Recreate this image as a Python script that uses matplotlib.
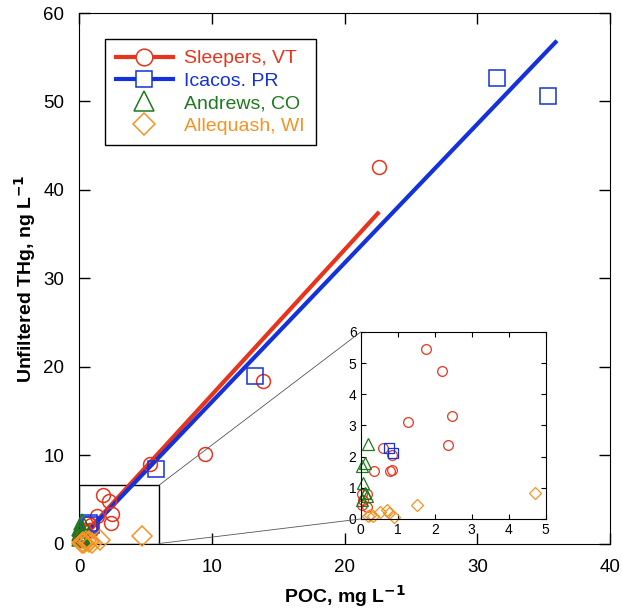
import numpy as np
import matplotlib
matplotlib.use('Agg')
import matplotlib.pyplot as plt
from matplotlib.lines import Line2D
from matplotlib.patches import Rectangle, ConnectionPatch

plt.rcParams['font.family'] = ['Liberation Sans', 'DejaVu Sans']

# Sleepers, VT
sleepers_x = [22.6, 13.8, 9.5, 5.3, 1.77, 2.19, 2.46, 1.29, 2.37, 0.61, 0.85, 0.36, 0.79, 0.84,
              0.03, 0.16, 0.07, 0.03, 0.16]
sleepers_y = [42.6, 18.4, 10.1, 9.0, 5.45, 4.76, 3.31, 3.11, 2.36, 2.27, 2.05, 1.55, 1.55, 1.57,
              0.80, 0.80, 0.61, 0.45, 0.40]
# Icacos, PR
icacos_x = [31.5, 35.3, 13.2, 5.8, 0.75, 0.88]
icacos_y = [52.7, 50.6, 18.9, 8.4, 2.27, 2.11]
# Andrews, CO
andrews_x = [0.20, 0.12, 0.03, 0.07, 0.12, 0.16, 0.03]
andrews_y = [2.40, 1.79, 1.71, 1.15, 0.84, 0.75, 0.62]
# Allequash, WI
allequash_x = [4.72, 1.51, 0.25, 0.34, 0.52, 0.70, 0.75, 0.91, 0.20]
allequash_y = [0.82, 0.45, 0.13, 0.08, 0.23, 0.29, 0.18, 0.07, 0.08]

# regression lines: slope, intercept, x range
red_fit = (1.64, 0.45, 0.5, 22.6)
blue_fit = (1.57, 0.35, 0.5, 36.0)

labels = ['Sleepers, VT', 'Icacos. PR', 'Andrews, CO', 'Allequash, WI']
red = '#e8341c'
blue = '#1432dc'
green = '#1d7a1d'
orange = '#f39424'

series = [
    (sleepers_x, sleepers_y, 'o', red),
    (icacos_x, icacos_y, 's', blue),
    (andrews_x, andrews_y, '^', green),
    (allequash_x, allequash_y, 'D', orange),
]
main_ms = {'o': 10, 's': 11, '^': 11, 'D': 10}
inset_ms = {'o': 7, 's': 7, '^': 8, 'D': 6}

fig = plt.figure(figsize=(6.22, 6.12), dpi=100)
ax = fig.add_axes([0.1278, 0.1119, 0.8529, 0.8668])

for (m, b, x0, x1), c in [(red_fit, red), (blue_fit, blue)]:
    xs = np.array([x0, x1])
    ax.plot(xs, m * xs + b, color=c, lw=3, zorder=3, solid_capstyle='butt')

for xs, ys, mk, c in series:
    ax.plot(xs, ys, mk, ls='none', ms=main_ms[mk], mfc='none', mec=c, mew=1.1,
            clip_on=False, zorder=4)

ax.set_xlim(0, 40)
ax.set_ylim(0, 60)
ax.set_xticks([0, 10, 20, 30, 40])
ax.set_yticks([0, 10, 20, 30, 40, 50, 60])
ax.tick_params(direction='in', length=8, width=1, labelsize=13.5, pad=11,
               top=True, right=True)
ax.set_xlabel(r'POC, mg L$^{\mathbf{-1}}$', fontsize=14, fontweight='bold', labelpad=5)
ax.set_ylabel(r'Unfiltered THg, ng L$^{\mathbf{-1}}$', fontsize=14, fontweight='bold', labelpad=4)

# zoom box
ax.add_patch(Rectangle((0, 0), 6, 6.6, fill=False, ec='black', lw=1, zorder=2))

handles = [
    Line2D([], [], color=red, lw=3, marker='o', ms=12, mfc='white', mec=red, mew=1.1),
    Line2D([], [], color=blue, lw=3, marker='s', ms=12, mfc='white', mec=blue, mew=1.1),
    Line2D([], [], ls='none', marker='^', ms=14, mfc='none', mec=green, mew=1.1),
    Line2D([], [], ls='none', marker='D', ms=11, mfc='none', mec=orange, mew=1.1),
]
leg = ax.legend(handles, labels, loc='upper left', bbox_to_anchor=(0.049, 0.951),
                borderaxespad=0, fontsize=14, fancybox=False, edgecolor='black',
                framealpha=1, handlelength=2.9, labelspacing=0.25, borderpad=0.55,
                handletextpad=0.6)
leg.get_frame().set_linewidth(1)
for t, c in zip(leg.get_texts(), [red, blue, green, orange]):
    t.set_color(c)

# inset
ins = fig.add_axes([0.580, 0.152, 0.2974, 0.3056])
for xs, ys, mk, c in series:
    xs = np.asarray(xs)
    ys = np.asarray(ys)
    keep = (xs <= 5) & (ys <= 6)
    ins.plot(xs[keep], ys[keep], mk, ls='none', ms=inset_ms[mk], mfc='none', mec=c,
             mew=0.9, clip_on=False)
ins.set_xlim(0, 5)
ins.set_ylim(0, 6)
ins.set_xticks(range(6))
ins.set_yticks(range(7))
ins.tick_params(direction='in', length=3.5, width=0.8, labelsize=10, pad=3,
                top=True, right=True)

for xa, ya in [(6, 6.6), (6, 0)]:
    yb = 6 if ya > 0 else 0
    cp = ConnectionPatch(xyA=(xa, ya), coordsA=ax.transData,
                         xyB=(0, yb), coordsB=ins.transData,
                         color='#555555', lw=0.6)
    fig.add_artist(cp)

fig.savefig('out.png', dpi=100)
